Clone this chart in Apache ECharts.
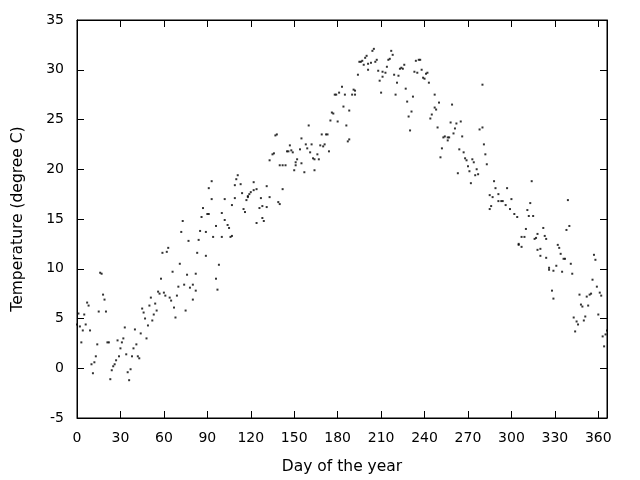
<!DOCTYPE html>
<html>
<head>
<meta charset="utf-8">
<script src="https://cdn.jsdelivr.net/npm/echarts@6/dist/echarts.min.js"></script>
<style>html,body{margin:0;padding:0;background:#fff;}#c{width:640px;height:480px;}</style>
</head>
<body>
<div id="c"></div>
<script>
const xTicks = [0, 30, 60, 90, 120, 150, 180, 210, 240, 270, 300, 330, 360];
const yTicks = [-5, 0, 5, 10, 15, 20, 25, 30, 35];
const days = [
0,1,2,3,4,5,6,7,8,9,10,11,12,13,14,15,16,17,18,19,20,21,22,23,24,25,26,27,28,29,30,
31,32,33,34,35,36,37,38,39,40,41,42,43,44,45,46,47,48,49,50,51,52,53,54,55,56,57,58,59,60,
61,62,63,64,65,66,67,68,69,70,71,72,73,74,75,76,77,78,80,80,82,82,83,84,85,86,87,89,89,90,
91,91,93,93,94,96,96,97,98,100,100,102,102,104,105,106,107,107,109,109,110,111,113,114,115,116,117,118,118,119,120,
122,122,124,124,126,127,128,128,129,131,131,133,133,135,136,137,138,139,140,140,142,142,144,145,146,147,148,149,150,151,
151,152,154,155,155,157,158,159,160,161,162,163,164,164,166,167,168,169,170,171,172,173,174,175,176,177,178,179,180,181,
183,184,185,186,187,188,188,190,191,192,192,194,195,196,197,198,199,200,201,201,203,204,205,206,207,208,209,210,211,211,
213,214,215,216,217,218,219,220,221,222,223,224,225,226,227,228,229,230,231,232,233,234,235,236,237,238,239,240,241,242,
243,244,245,247,247,248,249,250,251,252,253,254,256,256,257,258,259,260,261,262,263,264,265,266,267,268,269,270,271,272,
273,274,275,276,277,278,280,280,281,282,283,285,285,286,287,288,289,291,291,293,294,296,297,299,300,302,304,305,305,307,
307,309,310,311,312,313,314,315,316,317,318,318,320,320,322,323,324,324,326,326,328,329,329,331,332,333,334,335,336,337,
338,339,340,341,342,343,344,345,346,347,348,349,350,351,352,353,354,355,356,357,358,359,360,361,362,363,364,365,366
];
const temps = [
4.4,5.5,4.2,2.6,3.8,5.4,4.4,6.6,6.3,3.8,0.4,-0.5,0.6,1.2,2.4,5.7,9.6,9.5,7.4,6.9,5.7,2.6,2.6,-1.1,-0.2,0.2,0.4,0.8,2.8,1.2,2.0,
2.6,3.0,4.1,1.4,-0.4,-1.2,-0.1,1.2,2.0,3.9,2.4,1.2,1.0,3.5,6.0,5.6,5.0,3.0,4.3,6.3,7.1,4.8,5.4,6.5,5.8,7.7,7.5,9.0,11.6,7.6,
7.3,11.7,12.1,7.1,6.8,9.7,6.1,5.1,7.3,8.2,10.5,13.7,14.8,8.4,5.8,9.4,12.8,8.1,6.9,8.4,9.5,7.8,11.6,12.9,13.8,15.2,16.1,13.7,11.3,15.5,
18.1,15.5,18.8,17.0,13.2,14.3,9.0,7.9,10.4,13.2,15.6,17.0,14.9,14.4,14.1,13.2,13.3,16.4,18.4,17.1,19.0,19.4,18.5,17.6,16.0,15.7,16.9,17.2,17.3,17.5,17.7,
18.7,17.9,18.0,14.6,16.1,17.1,16.3,15.1,14.8,18.3,16.2,20.9,17.2,21.5,21.6,23.4,23.5,16.7,16.5,20.4,20.4,18.0,20.4,21.8,21.8,22.4,21.9,21.7,19.9,20.4,
20.7,21.0,22.0,23.1,20.6,19.7,22.5,22.1,24.4,21.7,22.5,21.1,21.0,19.9,21.5,21.0,22.4,23.5,22.3,22.5,23.5,23.5,21.8,24.9,25.7,25.6,27.5,27.5,24.8,27.7,
28.3,26.3,27.5,24.4,22.8,25.9,23.0,27.5,28.0,27.9,27.5,29.5,30.8,30.8,30.9,30.5,31.2,31.4,30.6,30.0,30.7,31.9,32.1,30.8,31.0,29.9,28.9,27.7,29.8,29.3,
29.7,30.3,31.0,31.1,31.9,31.5,29.5,27.5,28.7,29.4,30.1,30.2,30.1,30.5,28.1,26.8,25.3,23.9,25.8,27.3,29.8,30.9,29.7,31.0,31.0,30.0,29.2,29.1,29.6,29.7,
28.7,25.1,25.5,27.5,26.2,26.0,24.2,26.7,21.2,22.1,23.2,23.3,23.2,22.9,23.2,24.7,26.5,23.6,24.1,24.6,19.6,22.0,24.8,23.3,21.7,21.1,20.9,20.3,19.8,18.6,
21.0,20.7,19.4,20.0,19.5,24.0,28.5,24.2,22.5,21.5,20.5,17.4,16.0,16.3,17.2,18.8,18.1,17.5,16.8,16.8,16.8,16.4,18.1,16.0,17.0,15.5,15.2,12.5,12.4,13.2,
12.2,13.2,14.0,15.9,15.3,16.6,18.8,15.3,13.0,13.1,13.5,11.9,12.0,11.3,14.1,13.3,13.0,11.1,10.1,9.9,7.8,7.0,9.8,10.3,12.4,12.1,11.5,9.7,11.0,11.0,
13.9,16.9,14.3,10.5,9.5,5.1,3.7,4.7,4.4,7.4,6.4,6.2,4.8,5.2,7.2,6.3,7.4,7.5,8.9,11.4,10.9,8.2,5.4,7.6,7.3,3.2,2.2,3.4,3.8
];
const points = days.map((d, i) => [d, temps[i]]);
const font = 'DejaVu Sans';
const fs = 14;
const nfs = 15.5;
const chart = echarts.init(document.getElementById('c'), null, {renderer: 'canvas'});
const tickStyle = {show: true, inside: true, length: 7, lineStyle: {color: '#000', width: 1}};
chart.setOption({
  animation: false,
  backgroundColor: '#fff',
  grid: {left: 77, right: 33, top: 20, bottom: 62, show: true, borderColor: '#000', borderWidth: 1, backgroundColor: 'transparent'},
  xAxis: [{
    type: 'value', min: 0, max: 366, interval: 30,
    name: 'Day of the year', nameLocation: 'middle', nameGap: 41,
    nameTextStyle: {fontFamily: font, fontSize: nfs, color: '#000'},
    axisLine: {show: true, onZero: false, lineStyle: {color: '#000'}},
    axisTick: tickStyle,
    axisLabel: {fontFamily: font, fontSize: fs, color: '#000', margin: 13, showMaxLabel: false,
      formatter: v => xTicks.includes(v) ? String(v) : ''},
    splitLine: {show: false}
  }, {
    type: 'value', min: 0, max: 366, interval: 30, position: 'top',
    axisLine: {show: true, onZero: false, lineStyle: {color: '#000'}},
    axisTick: tickStyle, axisLabel: {show: false}, splitLine: {show: false}
  }],
  yAxis: [{
    type: 'value', min: -5, max: 35, interval: 5,
    name: 'Temperature (degree C)', nameLocation: 'middle', nameGap: 51, nameRotate: 90,
    nameTextStyle: {fontFamily: font, fontSize: nfs, color: '#000'},
    axisLine: {show: true, onZero: false, lineStyle: {color: '#000'}},
    axisTick: tickStyle,
    axisLabel: {fontFamily: font, fontSize: fs, color: '#000', margin: 13,
      formatter: v => yTicks.includes(v) ? String(v) : ''},
    splitLine: {show: false}
  }, {
    type: 'value', min: -5, max: 35, interval: 5, position: 'right',
    axisLine: {show: true, onZero: false, lineStyle: {color: '#000'}},
    axisTick: tickStyle, axisLabel: {show: false}, splitLine: {show: false}
  }],
  series: [{
    type: 'scatter', xAxisIndex: 0, yAxisIndex: 0,
    data: points, symbol: 'rect', symbolSize: 2,
    itemStyle: {color: '#000'}
  }]
});
</script>
</body>
</html>
